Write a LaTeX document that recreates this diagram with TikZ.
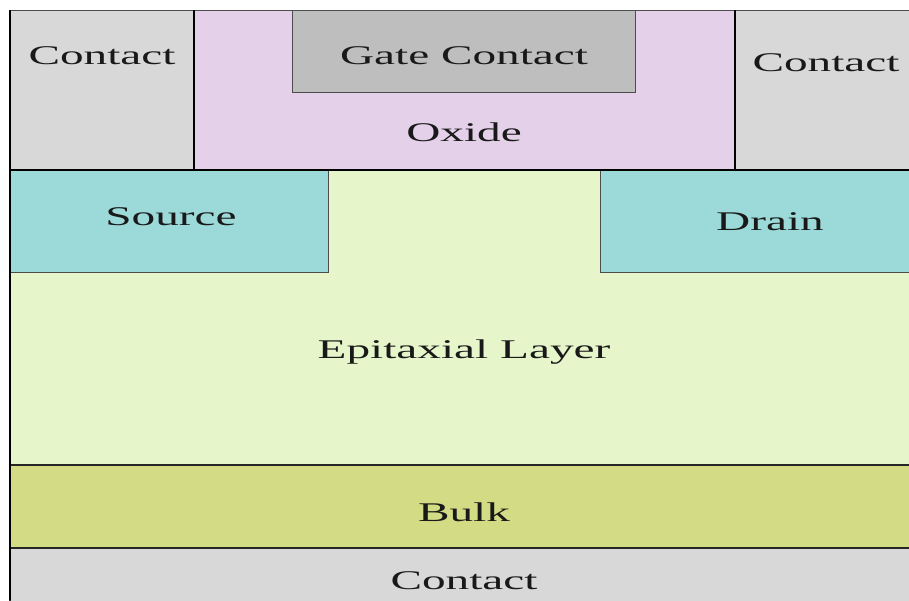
\documentclass[tikz,border=0pt]{standalone}
\usepackage{fontspec}
\setmainfont{Liberation Serif}[FakeStretch=1.75]
\definecolor{contactgray}{HTML}{D8D8D8}
\definecolor{gategray}{HTML}{BEBEBE}
\definecolor{oxidepurple}{HTML}{E4D0E8}
\definecolor{dopedcyan}{HTML}{9CDADA}
\definecolor{epigreen}{HTML}{E6F5CA}
\definecolor{bulkgreen}{HTML}{D3DC84}
\begin{document}
\begin{tikzpicture}[x=1pt,y=-1pt,
  layer/.style={draw=black!85,line width=1.2pt},
  thinlayer/.style={draw=black!70,line width=0.8pt},
  lbl/.style={font=\fontsize{27}{30}\selectfont,text=black!90,inner sep=0pt}]
\useasboundingbox (0,0) rectangle (909,600);
\fill[white] (0,0) rectangle (909,600);
\begin{scope}
\clip (0,0) rectangle (909,600);
% substrate stack
\filldraw[layer,fill=epigreen] (10,170) rectangle (920,465);
\filldraw[layer,fill=bulkgreen] (10,465) rectangle (920,548);
\filldraw[layer,fill=contactgray] (10,548) rectangle (920,610);
% source and drain wells
\filldraw[thinlayer,fill=dopedcyan] (10,170) rectangle (328,272);
\filldraw[thinlayer,fill=dopedcyan] (600,170) rectangle (920,272);
% top contacts and gate oxide
\filldraw[thinlayer,fill=contactgray] (10,10) rectangle (194,170);
\filldraw[thinlayer,fill=oxidepurple] (194,10) rectangle (735,170);
\filldraw[thinlayer,fill=contactgray] (735,10) rectangle (920,170);
\filldraw[thinlayer,fill=gategray] (292,10) rectangle (635,92);
% emphasised boundaries
\draw[line width=2pt] (194,10) -- (194,170);
\draw[line width=2pt] (735,10) -- (735,170);
\draw[line width=1.5pt] (10,170) -- (920,170);
\draw[line width=1.5pt] (10,10) -- (10,600);
\end{scope}
% labels
\node[lbl] (cl) at (102,56) {Contact};
\node[lbl] (gc) at (464,56) {Gate Contact};
\node[lbl] (ox) at (464,132) {Oxide};
\node[lbl] (cr) at (826,63) {Contact};
\node[lbl] (src) at (171,217) {Source};
\node[lbl] (drn) at (770,222) {Drain};
\node[lbl] (epi) at (464,352) {Epitaxial Layer};
\node[lbl] (blk) at (464,512) {Bulk};
\node[lbl] (cb) at (464,581) {Contact};
\end{tikzpicture}
\end{document}
